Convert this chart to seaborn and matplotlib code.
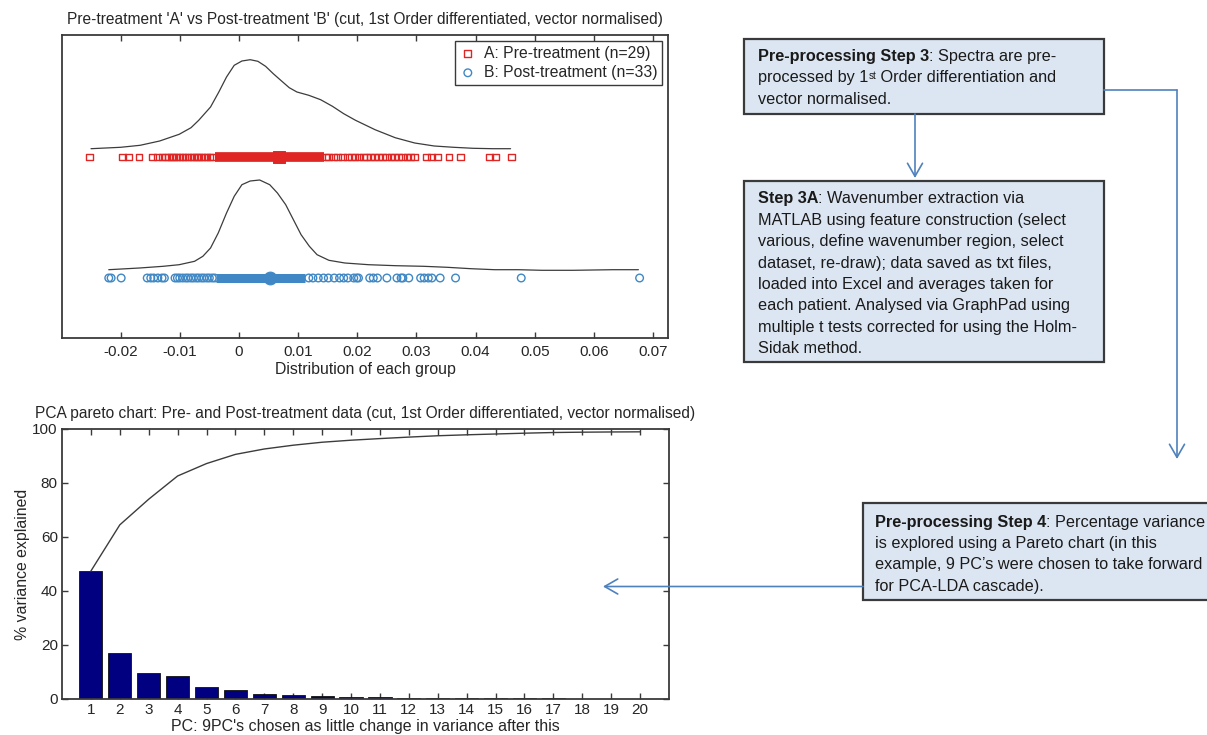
"""Pre/post-treatment group distributions, PCA pareto chart and the
pre-processing flow boxes, redrawn with seaborn.
"""

import matplotlib
matplotlib.use("Agg")
import matplotlib.pyplot as plt
import numpy as np
import seaborn as sns
from matplotlib.patches import Rectangle

sns.set_theme(style="white")
plt.rcParams["font.family"] = ["Liberation Sans", "DejaVu Sans"]

# Distribution of each group
a_points = [-0.0252, -0.0197, -0.0187, -0.0169, -0.0146, -0.0137, -0.0130,
            -0.0124, -0.0119, -0.0114, -0.0110, -0.0105, -0.0100, -0.0095,
            -0.0091, -0.0086, -0.0081, -0.0077, -0.0072, -0.0068, -0.0063,
            -0.0058, -0.0054, -0.0049, -0.0045,
            0.0147, 0.0152, 0.0160, 0.0167, 0.0175, 0.0183, 0.0190, 0.0196,
            0.0203, 0.0210, 0.0216, 0.0222, 0.0229, 0.0236, 0.0243, 0.0250,
            0.0257, 0.0263, 0.0270, 0.0277, 0.0284, 0.0290, 0.0297, 0.0317,
            0.0326, 0.0336, 0.0355, 0.0375, 0.0423, 0.0434, 0.0460]
b_points = [-0.0220, -0.0216, -0.0199, -0.0155, -0.0149, -0.0144, -0.0137,
            -0.0130, -0.0126, -0.0108, -0.0104, -0.0100, -0.0095, -0.0090,
            -0.0086, -0.0081, -0.0077, -0.0072, -0.0068, -0.0063, -0.0059,
            -0.0054, -0.0050, -0.0045, -0.0041,
            0.0118, 0.0125, 0.0134, 0.0143, 0.0151, 0.0161, 0.0170, 0.0177,
            0.0184, 0.0194, 0.0199, 0.0202, 0.0221, 0.0227, 0.0234, 0.0250,
            0.0267, 0.0274, 0.0277, 0.0287, 0.0307, 0.0313, 0.0320, 0.0326,
            0.0340, 0.0366, 0.0477, 0.0677]
a_band = [-0.0041, 0.0144]
b_band = [-0.0038, 0.0111]
a_centre = 0.0067
b_centre = 0.0052
a_row = 1.81
b_row = 0.60

# smoothed density traced above each row (height above the row)
a_curve_x = [-0.0250, -0.0200, -0.0167, -0.0134, -0.0101, -0.0081, -0.0068,
             -0.0048, -0.0034, -0.0021, -0.0008, 0.0005, 0.0019, 0.0032,
             0.0045, 0.0058, 0.0072, 0.0085, 0.0098, 0.0118, 0.0138, 0.0158,
             0.0177, 0.0197, 0.0230, 0.0264, 0.0297, 0.0330, 0.0363, 0.0396,
             0.0429, 0.0459]
a_curve_h = [0.083, 0.097, 0.117, 0.160, 0.227, 0.293, 0.367, 0.500, 0.650,
             0.800, 0.917, 0.960, 0.973, 0.957, 0.907, 0.833, 0.760, 0.693,
             0.650, 0.617, 0.573, 0.507, 0.433, 0.367, 0.273, 0.193, 0.140,
             0.110, 0.097, 0.087, 0.083, 0.083]
b_curve_x = [-0.0220, -0.0168, -0.0128, -0.0101, -0.0075, -0.0061, -0.0048,
             -0.0035, -0.0021, -0.0008, 0.0005, 0.0019, 0.0035, 0.0052,
             0.0065, 0.0079, 0.0092, 0.0105, 0.0119, 0.0132, 0.0152, 0.0179,
             0.0219, 0.0265, 0.0312, 0.0352, 0.0392, 0.0432, 0.0472, 0.0512,
             0.0565, 0.0632, 0.0675]
b_curve_h = [0.083, 0.100, 0.117, 0.133, 0.167, 0.217, 0.300, 0.450, 0.650,
             0.817, 0.933, 0.970, 0.980, 0.933, 0.850, 0.733, 0.583, 0.433,
             0.317, 0.233, 0.177, 0.150, 0.133, 0.123, 0.117, 0.107, 0.093,
             0.083, 0.083, 0.077, 0.077, 0.083, 0.083]

dist_ticks = [-0.02, -0.01, 0, 0.01, 0.02, 0.03, 0.04, 0.05, 0.06, 0.07]
dist_tick_labels = ['-0.02', '-0.01', '0', '0.01', '0.02', '0.03', '0.04',
                    '0.05', '0.06', '0.07']

# PCA pareto
pc_numbers = [1, 2, 3, 4, 5, 6, 7, 8, 9, 10, 11, 12, 13, 14, 15, 16, 17, 18,
              19, 20]
pc_variance = [47.4, 17.1, 9.5, 8.6, 4.6, 3.4, 2.0, 1.4, 1.1, 0.75, 0.6,
               0.55, 0.5, 0.35, 0.3, 0.3, 0.25, 0.12, 0.08, 0.05]

RED = '#e02525'
BLUE = '#3f88c5'
INK = '#262626'
SPINE = '#3a3a3a'
ARROW = '#4f81bd'

W, H = 1207, 735
fig = plt.figure(figsize=(W / 100, H / 100), dpi=100)


def px_axes(left, top, right, bottom):
    return fig.add_axes([left / W, 1 - bottom / H,
                         (right - left) / W, (bottom - top) / H])


def style_frame(ax):
    for sp in ax.spines.values():
        sp.set_visible(True)
        sp.set_color(SPINE)
        sp.set_linewidth(1.3)


# ---- top: distribution of each group ----
ax1 = px_axes(62, 35, 668, 338)
sns.lineplot(x=a_curve_x, y=np.array(a_curve_h) + a_row, ax=ax1,
             color='#3c3c3c', lw=0.9)
sns.lineplot(x=b_curve_x, y=np.array(b_curve_h) + b_row, ax=ax1,
             color='#3c3c3c', lw=0.9)
sns.scatterplot(x=a_points, y=[a_row] * len(a_points), ax=ax1, marker='s',
                s=24, facecolors='none', edgecolor=RED, linewidth=1,
                label='A: Pre-treatment (n=29)', zorder=3)
sns.scatterplot(x=b_points, y=[b_row] * len(b_points), ax=ax1, marker='o',
                s=30, facecolors='none', edgecolor=BLUE, linewidth=1,
                label='B: Post-treatment (n=33)', zorder=3)
ax1.plot(a_band, [a_row, a_row], color=RED, lw=7, solid_capstyle='butt',
         zorder=4)
ax1.plot(b_band, [b_row, b_row], color=BLUE, lw=6.5, solid_capstyle='butt',
         zorder=4)
sns.scatterplot(x=[a_centre], y=[a_row], ax=ax1, marker='s', s=75,
                color=RED, edgecolor=RED, zorder=5)
sns.scatterplot(x=[b_centre], y=[b_row], ax=ax1, marker='o', s=85,
                color=BLUE, edgecolor=BLUE, zorder=5)

ax1.set_xlim(-0.0299, 0.0725)
ax1.set_ylim(0, 3.03)
ax1.set_xticks(dist_ticks, dist_tick_labels)
ax1.set_yticks([])
ax1.tick_params(axis='x', direction='in', top=True, bottom=True, length=4,
                width=1, color=SPINE, labelsize=11, labelcolor=INK, pad=5)
style_frame(ax1)
ax1.set_xlabel('Distribution of each group', fontsize=11.4, color=INK,
               labelpad=2)
ax1.set_title("Pre-treatment 'A' vs Post-treatment 'B' (cut, 1st Order "
              "differentiated, vector normalised)", fontsize=11.2, color=INK,
              pad=8)
leg = ax1.legend(loc='upper right', frameon=True, fancybox=False,
                 edgecolor=SPINE, framealpha=1, fontsize=11.3,
                 handlelength=1.0, handletextpad=0.5, borderaxespad=0.4,
                 borderpad=0.3, labelspacing=0.25)
leg.get_frame().set_linewidth(1.0)
for t in leg.get_texts():
    t.set_color(INK)

# ---- bottom: PCA pareto chart ----
ax2 = px_axes(62, 429, 669, 699)
sns.barplot(x=pc_numbers, y=pc_variance, ax=ax2, native_scale=True,
            color='#000080', saturation=1, edgecolor='#111111',
            linewidth=0.6, width=0.8)
sns.lineplot(x=pc_numbers, y=np.cumsum(pc_variance), ax=ax2,
             color='#3c3c3c', lw=1)
ax2.set_xlim(0, 21)
ax2.set_ylim(0, 100)
ax2.set_xticks(pc_numbers, [str(n) for n in pc_numbers])
ax2.set_yticks([0, 20, 40, 60, 80, 100])
ax2.tick_params(direction='in', top=True, bottom=True, left=True, right=True,
                length=4, width=1, color=SPINE, labelsize=11,
                labelcolor=INK, pad=3)
style_frame(ax2)
ax2.set_xlabel("PC: 9PC's chosen as little change in variance after this",
               fontsize=11.5, color=INK, labelpad=1)
ax2.set_ylabel('% variance explained', fontsize=11.4, color=INK, labelpad=2)
ax2.set_title('PCA pareto chart: Pre- and Post-treatment data (cut, 1st '
              'Order differentiated, vector normalised)', fontsize=11.2,
              color=INK, pad=8)

# ---- overlay in pixel units: flow boxes and arrows ----
ov = fig.add_axes([0, 0, 1, 1])
ov.set_xlim(0, W)
ov.set_ylim(H, 0)
ov.axis('off')
ov.set_zorder(10)

for x0, y0, x1, y1 in [(744, 39, 1104, 114), (744, 181, 1104, 362),
                       (863, 503, 1230, 600)]:
    ov.add_patch(Rectangle((x0, y0), x1 - x0, y1 - y0, facecolor='#dce6f2',
                           edgecolor=SPINE, lw=1.6))

TXT = dict(fontsize=11.7, color='#1a1a1a')


def rich_line(x, y, bold, rest):
    t = ov.text(x, y, bold, fontweight='bold', va='baseline', **TXT)
    ov.annotate(rest, xy=(1, 0), xycoords=t, ha='left', va='bottom', **TXT)


# box 1
rich_line(758, 60.5, 'Pre-processing Step 3', ': Spectra are pre-')
t1 = ov.text(758, 82.2, 'processed by 1', va='baseline', **TXT)
t2 = ov.annotate('st', xy=(1, 0.95), xycoords=t1, ha='left', va='top',
                 fontsize=7, color='#1a1a1a')
ov.annotate(' Order differentiation and', xy=(1, 0), xycoords=(t2, t1),
            ha='left', va='bottom', **TXT)
ov.text(758, 103.9, 'vector normalised.', va='baseline', **TXT)

# box 2
rich_line(758, 203.3, 'Step 3A', ': Wavenumber extraction via')
box2_lines = ['MATLAB using feature construction (select',
              'various, define wavenumber region, select',
              'dataset, re-draw); data saved as txt files,',
              'loaded into Excel and averages taken for',
              'each patient. Analysed via GraphPad using',
              'multiple t tests corrected for using the Holm-',
              'Sidak method.']
for i, line in enumerate(box2_lines):
    ov.text(758, 203.3 + 21.43 * (i + 1), line, va='baseline', **TXT)

# box 3
rich_line(875, 526.7, 'Pre-processing Step 4', ': Percentage variance')
box3_lines = ['is explored using a Pareto chart (in this',
              "example, 9 PC\u2019s were chosen to take forward",
              'for PCA-LDA cascade).']
for i, line in enumerate(box3_lines):
    ov.text(875, 526.7 + 21.3 * (i + 1), line, va='baseline', **TXT)

ARROW_KW = dict(arrowstyle='->,head_length=0.47,head_width=0.27',
                color=ARROW, lw=1.2, shrinkA=0, shrinkB=0, mutation_scale=20)
ov.annotate('', xy=(915, 178), xytext=(915, 114), arrowprops=ARROW_KW)
ov.plot([1104, 1177], [90, 90], color=ARROW, lw=1.2)
ov.annotate('', xy=(1177, 459), xytext=(1177, 90), arrowprops=ARROW_KW)
ov.annotate('', xy=(603, 586.5), xytext=(863, 586.5), arrowprops=ARROW_KW)

fig.savefig('out.png', dpi=100)
